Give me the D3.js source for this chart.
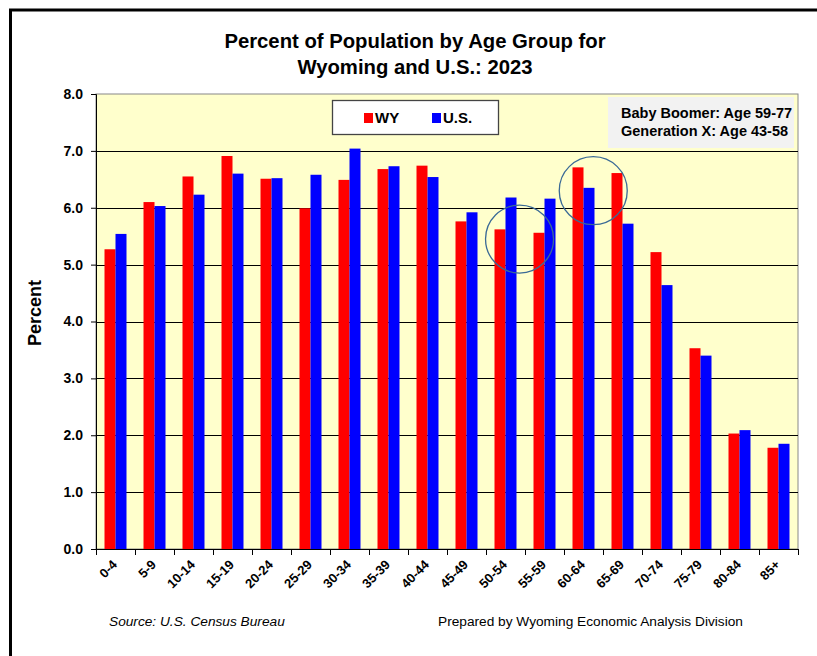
<!DOCTYPE html>
<head>
  <meta charset="utf-8">
  <script src="https://d3js.org/d3.v7.min.js"></script>
  <style>
    body { margin:0; background:#fff; }
    text { font-family: Arial, "Liberation Sans", sans-serif; }
  </style>
</head>

<body>
  <script>

  var totalWidth = 817;
  var totalHeight = 656;

  // plot area inside the frame
  var margin = {top: 94, right: 19, bottom: 107, left: 96};
  var width = totalWidth - margin.left - margin.right,
      height = totalHeight - margin.top - margin.bottom;

  // data
  var ageGroups = ["0-4", "5-9", "10-14", "15-19", "20-24", "25-29", "30-34", "35-39", "40-44",
                   "45-49", "50-54", "55-59", "60-64", "65-69", "70-74", "75-79", "80-84", "85+"];
  var wyValues = [5.27, 6.10, 6.55, 6.91, 6.51, 5.99, 6.49, 6.68, 6.74,
                  5.76, 5.62, 5.56, 6.71, 6.61, 5.22, 3.53, 2.03, 1.78];
  var usValues = [5.54, 6.03, 6.23, 6.60, 6.52, 6.58, 7.04, 6.73, 6.54,
                  5.92, 6.18, 6.16, 6.35, 5.72, 4.64, 3.40, 2.09, 1.85];
  var seriesNames = ["WY", "U.S."];
  var seriesColors = ["#ff0000", "#0000ff"];
  var yTicks = [0, 1, 2, 3, 4, 5, 6, 7, 8];
  var noteLines = ["Baby Boomer: Age 59-77", "Generation X: Age 43-58"];
  // highlight circles: position as category index and percent value
  var circleSpots = [{index: 10.86, value: 5.45}, {index: 12.75, value: 6.30}];

  var svg = d3.select("body").append("svg")
    .attr("width", totalWidth)
    .attr("height", totalHeight);

  // outer frame (runs off the right and bottom of the picture)
  svg.append("rect")
    .attr("x", 10.5).attr("y", 10)
    .attr("width", 900).attr("height", 800)
    .attr("fill", "#fff")
    .attr("stroke", "#000")
    .attr("stroke-width", 3);

  // title
  var title = svg.append("text")
    .attr("x", 415)
    .attr("text-anchor", "middle")
    .attr("font-weight", "bold")
    .attr("font-size", "20.3px");
  title.append("tspan").attr("x", 415).attr("y", 48).text("Percent of Population by Age Group for");
  title.append("tspan").attr("x", 415).attr("y", 74).text("Wyoming and U.S.: 2023");

  var g = svg.append("g")
    .attr("transform", "translate(" + margin.left + "," + margin.top + ")");

  var xScale = d3.scaleBand()
    .domain(ageGroups)
    .range([0, width])
    .paddingInner(0.436)
    .paddingOuter(0.218);

  var xSub = d3.scaleBand()
    .domain(seriesNames)
    .range([0, xScale.bandwidth()]);

  var xIndex = d3.scaleLinear()
    .domain([0, ageGroups.length])
    .range([0, width]);

  var yScale = d3.scaleLinear()
    .domain([0, 8])
    .range([height, 0]);

  var colorScale = d3.scaleOrdinal()
    .domain(seriesNames)
    .range(seriesColors);

  // plot background
  g.append("rect")
    .attr("width", width)
    .attr("height", height)
    .attr("fill", "#ffffcc")
    .attr("stroke", "#888")
    .attr("stroke-width", 1);

  // gridlines
  g.selectAll(".grid")
    .data(yTicks.slice(1, -1))
    .enter()
    .append("line")
    .attr("x1", 0)
    .attr("x2", width)
    .attr("y1", function(d) { return Math.round(yScale(d)) + 0.5; })
    .attr("y2", function(d) { return Math.round(yScale(d)) + 0.5; })
    .attr("stroke", "#000")
    .attr("stroke-width", 1);

  // bars
  var barData = [];
  for (var i = 0; i < ageGroups.length; i++) {
    barData.push({group: ageGroups[i], series: "WY", value: wyValues[i]});
    barData.push({group: ageGroups[i], series: "U.S.", value: usValues[i]});
  }

  g.selectAll(".bar")
    .data(barData)
    .enter()
    .append("rect")
    .attr("class", "bar")
    .attr("x", function(d) { return xScale(d.group) + xSub(d.series); })
    .attr("width", xSub.bandwidth())
    .attr("y", function(d) { return yScale(d.value); })
    .attr("height", function(d) { return yScale(0) - yScale(d.value); })
    .attr("fill", function(d) { return colorScale(d.series); });

  // y axis
  var axisLeft = d3.axisLeft(yScale)
    .tickValues(yTicks)
    .tickFormat(d3.format(".1f"))
    .tickSize(5)
    .tickPadding(8);
  var yAxisG = g.append("g").call(axisLeft);
  yAxisG.select(".domain").attr("stroke", "#000");
  yAxisG.selectAll("text")
    .attr("font-family", "Arial, 'Liberation Sans', sans-serif")
    .attr("font-size", "14px")
    .attr("font-weight", "bold")
    .attr("fill", "#000");

  // x axis: ticks between categories, labels rotated
  var xAxisG = g.append("g").attr("transform", "translate(0," + height + ")");
  xAxisG.append("line")
    .attr("x1", 0).attr("x2", width)
    .attr("y1", 0.5).attr("y2", 0.5)
    .attr("stroke", "#000");
  xAxisG.selectAll(".xtick")
    .data(d3.range(ageGroups.length + 1))
    .enter()
    .append("line")
    .attr("x1", function(d) { return Math.round(xIndex(d)) + 0.5; })
    .attr("x2", function(d) { return Math.round(xIndex(d)) + 0.5; })
    .attr("y1", 0)
    .attr("y2", 6)
    .attr("stroke", "#000");
  xAxisG.selectAll(".xlabel")
    .data(ageGroups)
    .enter()
    .append("text")
    .attr("transform", function(d) {
      var cx = xScale(d) + xScale.bandwidth() / 2 - 4;
      return "translate(" + cx + ",10) rotate(-45)";
    })
    .attr("text-anchor", "end")
    .attr("dy", "0.7em")
    .attr("font-size", "13px")
    .attr("font-weight", "bold")
    .text(function(d) { return d; });

  // y axis title
  svg.append("text")
    .attr("transform", "translate(41,313) rotate(-90)")
    .attr("text-anchor", "middle")
    .attr("font-size", "18px")
    .attr("font-weight", "bold")
    .text("Percent");

  // legend
  var legend = svg.append("g");
  legend.append("rect")
    .attr("x", 332.5).attr("y", 100.5)
    .attr("width", 166).attr("height", 34)
    .attr("fill", "#fff")
    .attr("stroke", "#444")
    .attr("stroke-width", 1.3);
  var legendX = [364, 432];
  seriesNames.forEach(function(name, k) {
    legend.append("rect")
      .attr("x", legendX[k]).attr("y", 113)
      .attr("width", 9).attr("height", 10)
      .attr("fill", colorScale(name));
    legend.append("text")
      .attr("x", legendX[k] + 11).attr("y", 123)
      .attr("font-size", "15px")
      .attr("font-weight", "bold")
      .text(name);
  });

  // generation note box
  svg.append("rect")
    .attr("x", 608).attr("y", 97)
    .attr("width", 186).attr("height", 51)
    .attr("fill", "#f2f2f2");
  svg.selectAll(".note")
    .data(noteLines)
    .enter()
    .append("text")
    .attr("x", 621)
    .attr("y", function(d, k) { return 118 + k * 18; })
    .attr("font-size", "14.5px")
    .attr("font-weight", "bold")
    .text(function(d) { return d; });

  // highlight circles
  g.selectAll(".spot")
    .data(circleSpots)
    .enter()
    .append("circle")
    .attr("cx", function(d) { return xIndex(d.index); })
    .attr("cy", function(d) { return yScale(d.value); })
    .attr("r", 34)
    .attr("fill", "none")
    .attr("stroke", "#3a6a96")
    .attr("stroke-width", 1.3);

  // footer
  svg.append("text")
    .attr("x", 109).attr("y", 626)
    .attr("font-size", "13.7px")
    .attr("font-style", "italic")
    .text("Source: U.S. Census Bureau");
  svg.append("text")
    .attr("x", 438).attr("y", 626)
    .attr("font-size", "13.7px")
    .text("Prepared by Wyoming Economic Analysis Division");

  </script>
</body>
